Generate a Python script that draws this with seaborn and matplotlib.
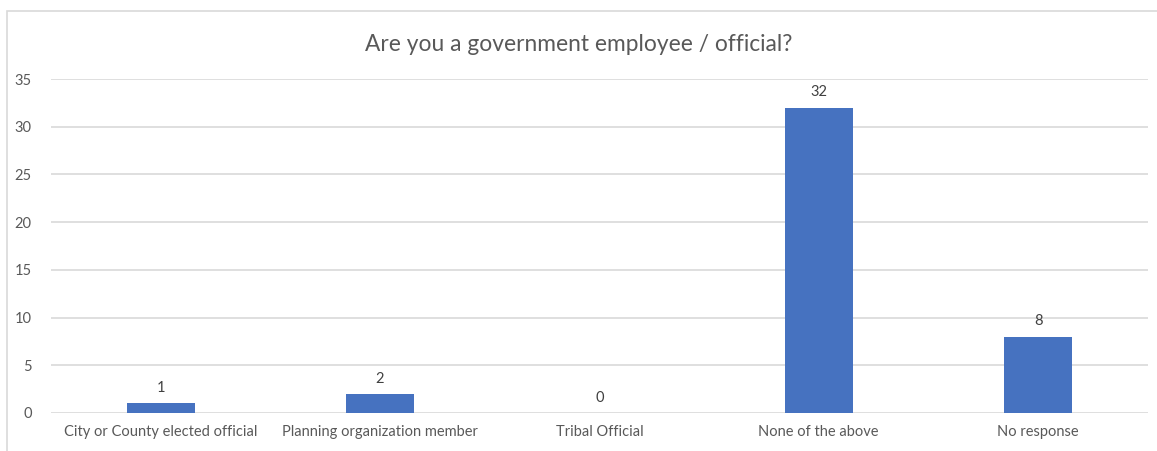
import matplotlib
matplotlib.use("Agg")
import matplotlib.pyplot as plt
from matplotlib.patches import Rectangle
import seaborn as sns
import pandas as pd

categories = ["City or County elected official", "Planning organization member",
              "Tribal Official", "None of the above", "No response"]
counts = [1, 2, 0, 32, 8]
yticks = [0, 5, 10, 15, 20, 25, 30, 35]
title = "Are you a government employee / official?"

sns.set_theme(style="white")
plt.rcParams["font.family"] = ["Lato", "DejaVu Sans"]

df = pd.DataFrame({"category": categories, "count": counts})

fig = plt.figure(figsize=(11.57, 4.51), dpi=100)
ax = fig.add_axes([0.0441, 0.0843, 0.9479, 0.7405])

sns.barplot(data=df, x="category", y="count", color="#4672C0", width=0.31,
            saturation=1, ax=ax, zorder=3, linewidth=0)

ax.set_ylim(0, 35)
ax.set_yticks(yticks)
ax.yaxis.grid(True, color="#d9d9d9", linewidth=1.2, zorder=0)
ax.set_axisbelow(True)
for s in ax.spines.values():
    s.set_visible(False)
ax.tick_params(axis="both", length=0, colors="#595959", labelsize=10.5)
ax.tick_params(axis="y", pad=14)
ax.tick_params(axis="x", pad=9)
ax.set_xlabel("")
ax.set_ylabel("")
ax.set_xlim(-0.5, len(categories) - 0.5)

for i, v in enumerate(counts):
    ax.annotate(str(v), (i, v), xytext=(0, 6), textcoords="offset points",
                ha="center", va="bottom", fontsize=10.5, color="#404040")

fig.text(0.5, 0.902, title, ha="center", va="center", fontsize=16.4, color="#595959")

fig.patches.append(Rectangle((0.00605, -0.1), 1.2, 1.0756, transform=fig.transFigure,
                             fill=False, edgecolor="#d9d9d9", linewidth=1.2))

fig.savefig("out.png", dpi=100, facecolor="white")
